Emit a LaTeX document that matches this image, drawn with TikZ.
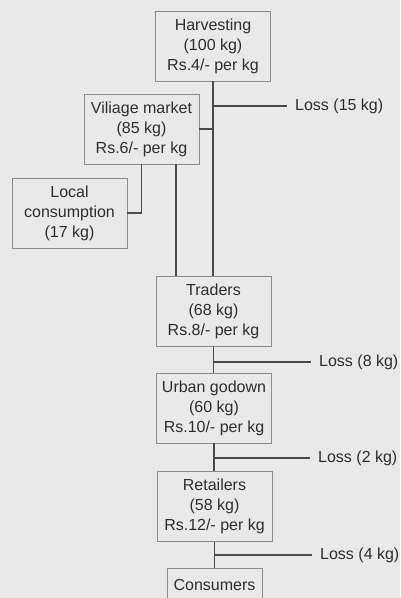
\documentclass[tikz,border=0pt]{standalone}
\usepackage{fontspec}
\setmainfont{Liberation Sans}
\usepackage{tikz}
\definecolor{pagegray}{HTML}{E9E9E9}
\definecolor{boxgray}{HTML}{8C8C8C}
\definecolor{linegray}{HTML}{4A4A4A}
\definecolor{inkgray}{HTML}{2E2E2E}

\tikzset{
  stage/.style={draw=boxgray,line width=0.9pt,fill=pagegray,text=inkgray,
    align=center,minimum width=115pt,minimum height=70pt,inner sep=2pt,
    font=\fontsize{16}{20}\selectfont},
  loss/.style={anchor=west,inner xsep=8pt,inner ysep=0pt,text=inkgray,
    font=\fontsize{16}{20}\selectfont},
  flow/.style={draw=linegray,line width=1.1pt}
}

\begin{document}
\begin{tikzpicture}[x=1pt,y=-1pt]
  \fill[pagegray] (0,0) rectangle (400,598);
  \useasboundingbox (0,0) rectangle (400,598);

  % stages
  \node[stage] (harvest)   at (213,46)    {Harvesting\\(100 kg)\\Rs.4/- per kg};
  \node[stage] (village)   at (141.5,129) {Viliage market\\(85 kg)\\Rs.6/- per kg};
  \node[stage] (local)     at (69.5,213)  {Local\\consumption\\(17 kg)};
  \node[stage] (traders)   at (213.5,311) {Traders\\(68 kg)\\Rs.8/- per kg};
  \node[stage] (godown)    at (214,408)   {Urban godown\\(60 kg)\\Rs.10/- per kg};
  \node[stage] (retail)    at (214.5,506.5) {Retailers\\(58 kg)\\Rs.12/- per kg};
  \node[stage,minimum width=95pt,minimum height=34pt] (consumers) at (214.5,585) {Consumers};

  % losses
  \node[loss] (loss15) at (287,106) {Loss (15 kg)};
  \node[loss] (loss8)  at (311,362) {Loss (8 kg)};
  \node[loss] (loss2)  at (310,458) {Loss (2 kg)};
  \node[loss] (loss4)  at (312,555) {Loss (4 kg)};

  % connectors
  \draw[flow] (harvest.south) -- (harvest.south |- traders.north);
  \draw[flow] (harvest.south |- loss15.west) -- (loss15.west);
  \draw[flow] (village.east) -- (village.east -| harvest.south);
  \draw[flow] (village.south) |- (local.east);
  \draw[flow] ([xshift=34.5pt]village.south) -- ([xshift=34.5pt]village.south |- traders.north);
  \foreach \from/\to/\lossnode in {traders/godown/loss8,godown/retail/loss2,retail/consumers/loss4}
  {
    \draw[flow] (\from.south) -- (\from.south |- \to.north);
    \draw[flow] (\from.south |- \lossnode.west) -- (\lossnode.west);
  }
\end{tikzpicture}
\end{document}
